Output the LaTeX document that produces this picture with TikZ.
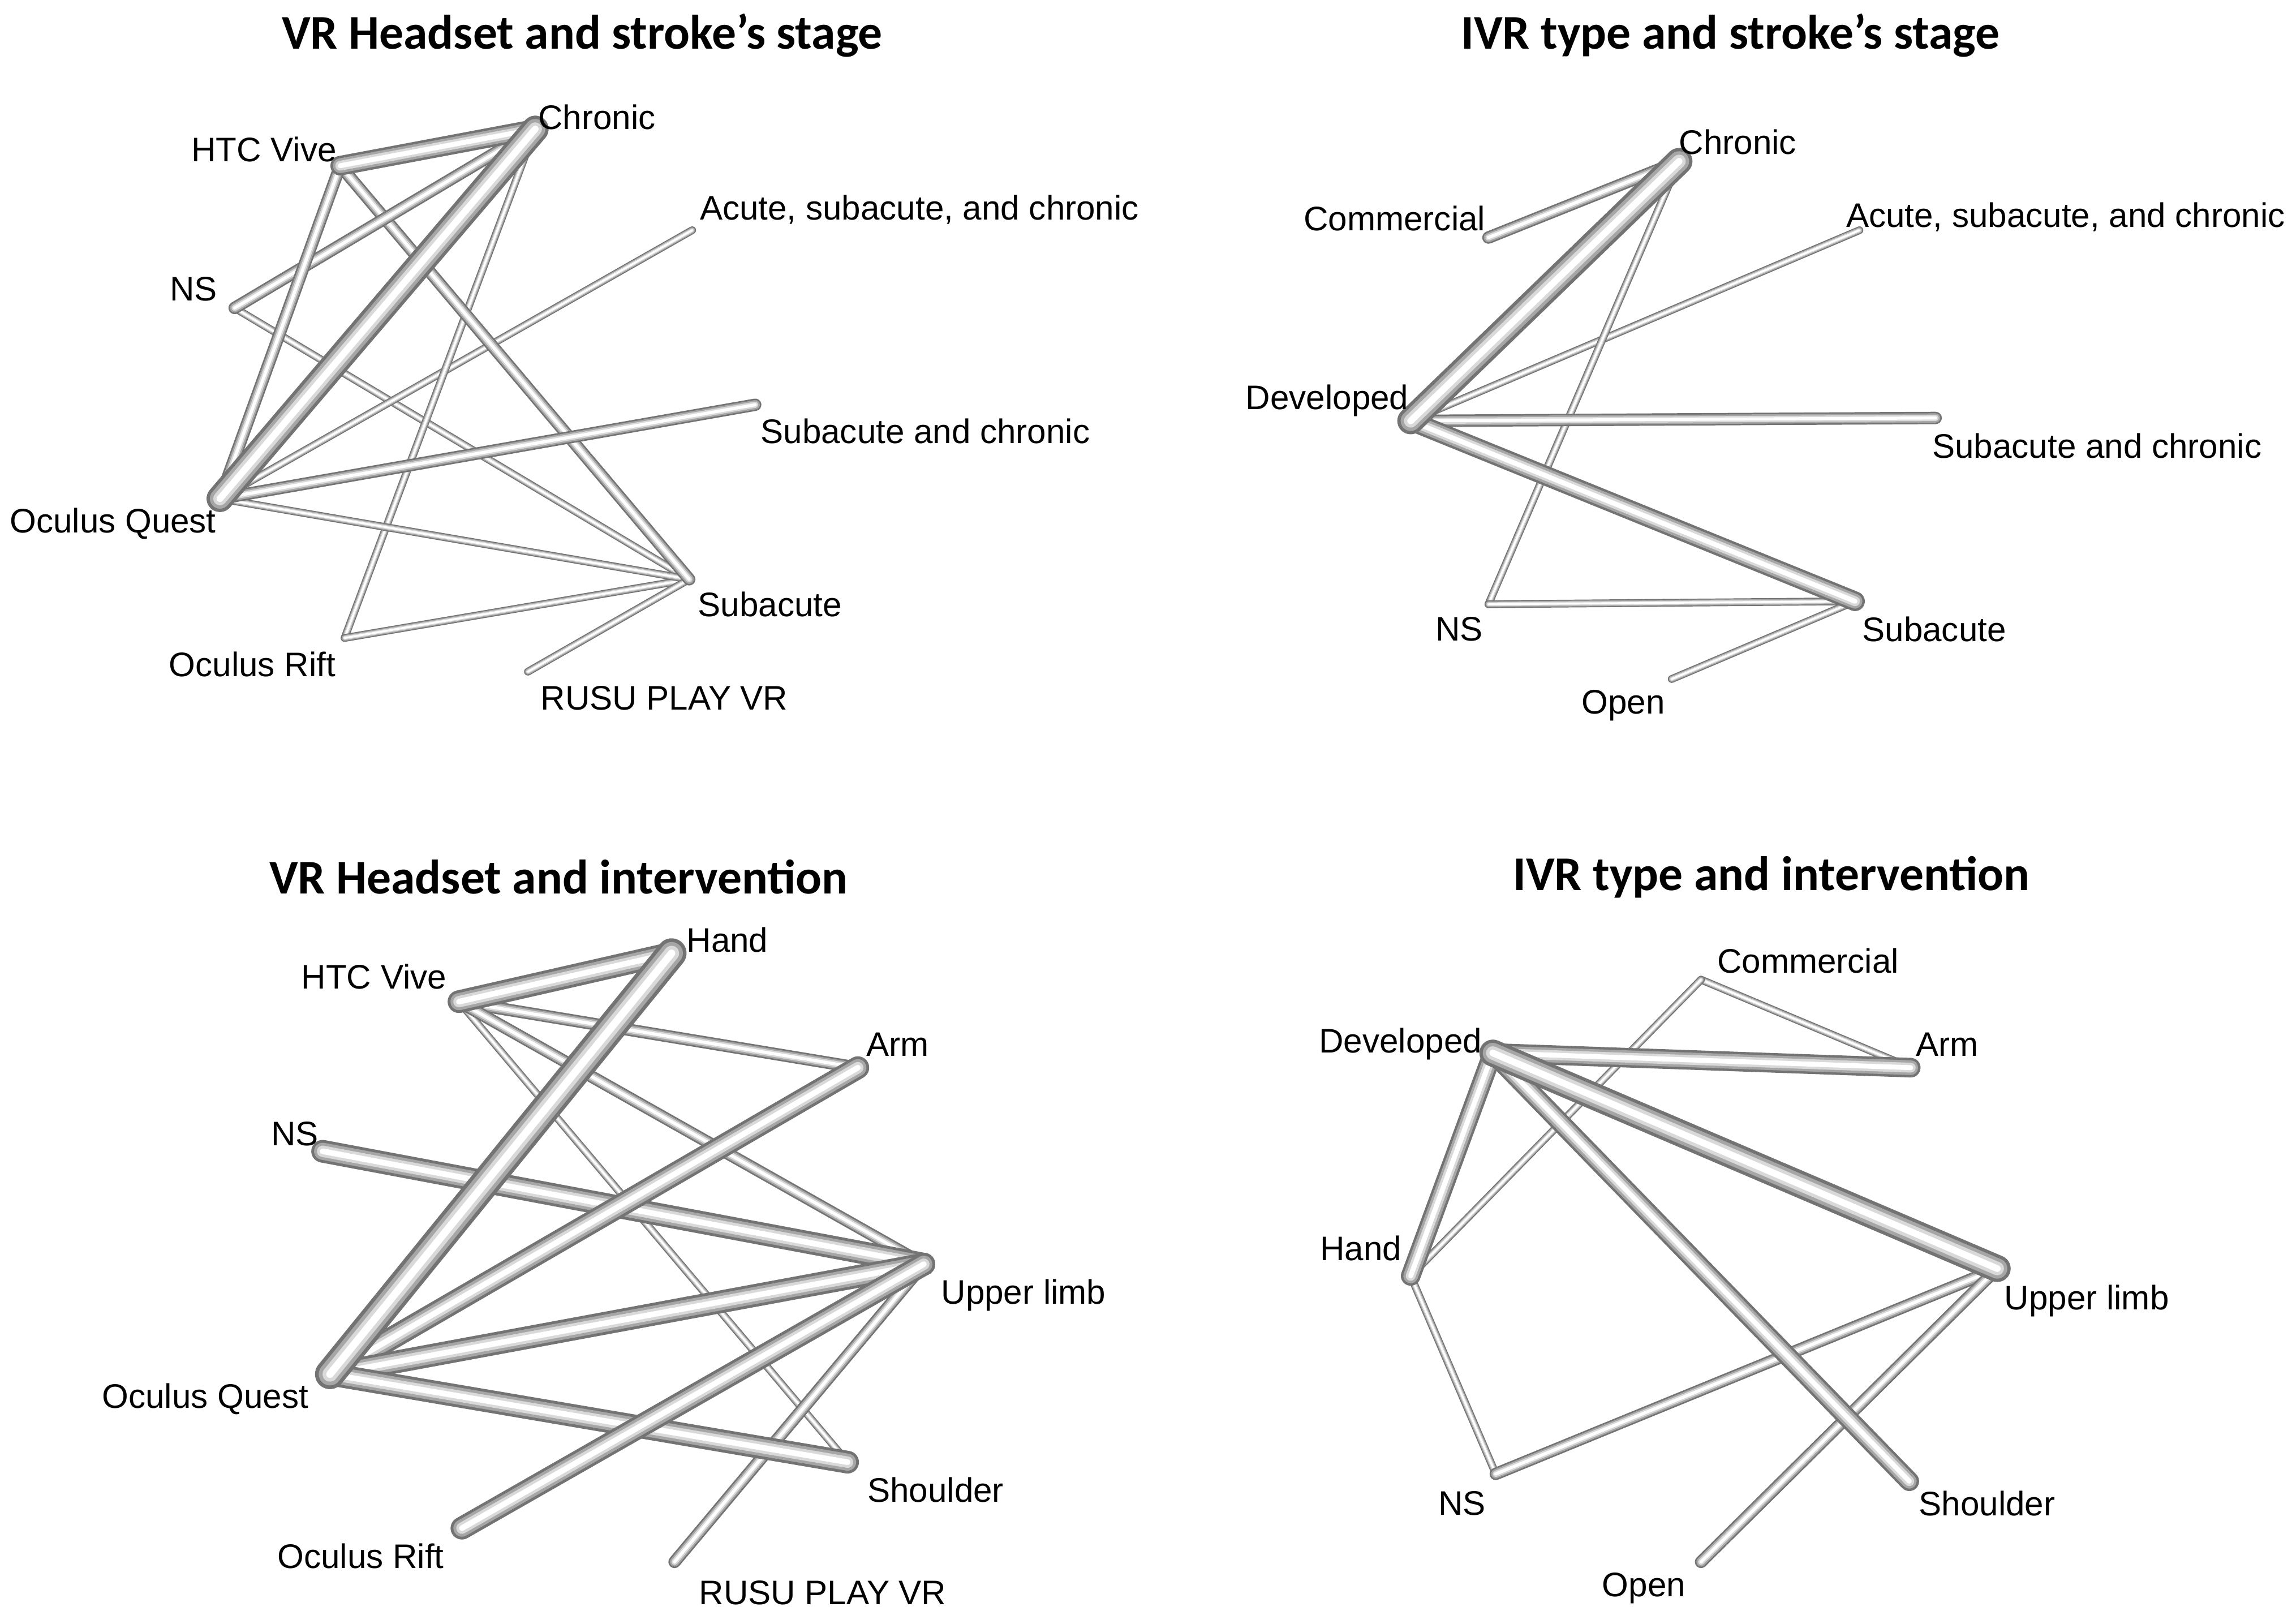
\documentclass[tikz,border=0pt]{standalone}
\usepackage{fontspec}
\setmainfont{Liberation Sans}
\newfontfamily\ttlfont{Carlito}
\begin{document}
\begin{tikzpicture}[x=0.01cm,y=-0.01cm,
 lbl/.style={font=\fontsize{6.6}{7.5}\selectfont,inner sep=0pt},
 ttl/.style={font=\ttlfont\bfseries\fontsize{9.4}{11}\selectfont,inner sep=0pt}]
\newcommand\tube[3]{\draw[line width=#1,black!55,line cap=round](#2)--(#3);
 \draw[line width=0.75*#1,black!35,line cap=round](#2)--(#3);
 \draw[line width=0.5*#1,black!15,line cap=round](#2)--(#3);
 \draw[line width=0.25*#1,white,line cap=round](#2)--(#3);}
\def\tn{1.5pt}\def\md{2.4pt}\def\tk{3.8pt}\def\vt{5.2pt}
\useasboundingbox (0,0) rectangle (1563,1107);
\fill[white] (0,0) rectangle (1563,1107);
% titles
\node[ttl] (t1) at (397,24) {VR Headset and stroke’s stage};
\node[ttl] (t2) at (1180,24) {IVR type and stroke’s stage};
\node[ttl] (t3) at (381,598) {VR Headset and intervention};
\node[ttl] (t4) at (1208,598) {IVR type and intervention};
% panel 1
\coordinate (aH) at (232,113); \coordinate (aC) at (365,88);
\coordinate (aA) at (472,157); \coordinate (aN) at (160,210);
\coordinate (aSC) at (515,276); \coordinate (aQ) at (150,340);
\coordinate (aS) at (470,395); \coordinate (aR) at (235,435);
\coordinate (aU) at (360,458);
\tube{\tn}{aN}{aS}
\tube{\tn}{aQ}{aA}
\tube{\tn}{aR}{aC}
\tube{\tn}{aR}{aS}
\tube{\tn}{aQ}{aS}
\tube{\tn}{aU}{aS}
\tube{\md}{aH}{aS}
\tube{\md}{aN}{aC}
\tube{\md}{aH}{aQ}
\tube{\md}{aQ}{aSC}
\tube{\tk}{aH}{aC}
\tube{\vt}{aQ}{aC}
\node[lbl] (la1) at (180,102) {HTC Vive};
\node[lbl] (la2) at (407,80) {Chronic};
\node[lbl] (la3) at (627,143) {Acute, subacute, and chronic};
\node[lbl] (la4) at (132,197) {NS};
\node[lbl] (la5) at (631,294) {Subacute and chronic};
\node[lbl] (la6) at (77,357) {Oculus Quest};
\node[lbl] (la7) at (525,412) {Subacute};
\node[lbl] (la8) at (172,453) {Oculus Rift};
\node[lbl] (la9) at (453,476) {RUSU PLAY VR};
% panel 2
\coordinate (bC) at (1145,110); \coordinate (bCo) at (1015,162);
\coordinate (bA) at (1268,157); \coordinate (bD) at (962,287);
\coordinate (bSC) at (1320,285); \coordinate (bN) at (1015,412);
\coordinate (bS) at (1265,410); \coordinate (bO) at (1140,463);
\tube{\tn}{bD}{bA}
\tube{\tn}{bN}{bC}
\tube{\tn}{bN}{bS}
\tube{\tn}{bO}{bS}
\tube{\md}{bCo}{bC}
\tube{\md}{bD}{bSC}
\tube{\tk}{bD}{bS}
\tube{\vt}{bD}{bC}
\node[lbl] (lb1) at (1185,97) {Chronic};
\node[lbl] (lb2) at (951,149) {Commercial};
\node[lbl,anchor=east] (lb3) at (1559,148) {Acute, subacute, and chronic};
\node[lbl] (lb4) at (905,273) {Developed};
\node[lbl] (lb5) at (1430,304) {Subacute and chronic};
\node[lbl] (lb6) at (995,429) {NS};
\node[lbl] (lb7) at (1319,429) {Subacute};
\node[lbl] (lb8) at (1107,481) {Open};
% panel 3
\coordinate (cH) at (458,650); \coordinate (cV) at (313,683);
\coordinate (cA) at (585,728); \coordinate (cN) at (220,785);
\coordinate (cU) at (630,862); \coordinate (cQ) at (225,937);
\coordinate (cS) at (578,997); \coordinate (cR) at (315,1042);
\coordinate (cP) at (460,1065);
\tube{\tn}{cV}{cS}
\tube{\md}{cV}{cA}
\tube{\md}{cV}{cU}
\tube{\md}{cP}{cU}
\tube{4.4pt}{cN}{cU}
\tube{4.4pt}{cQ}{cA}
\tube{4.4pt}{cQ}{cU}
\tube{4.4pt}{cQ}{cS}
\tube{4.4pt}{cR}{cU}
\tube{4.4pt}{cV}{cH}
\tube{5.8pt}{cQ}{cH}
\node[lbl] (lc1) at (496,641) {Hand};
\node[lbl] (lc2) at (255,666) {HTC Vive};
\node[lbl] (lc3) at (612,712) {Arm};
\node[lbl] (lc4) at (201,773) {NS};
\node[lbl] (lc5) at (698,883) {Upper limb};
\node[lbl] (lc6) at (140,954) {Oculus Quest};
\node[lbl] (lc7) at (638,1016) {Shoulder};
\node[lbl] (lc8) at (246,1061) {Oculus Rift};
\node[lbl] (lc9) at (561,1086) {RUSU PLAY VR};
% panel 4
\coordinate (dC) at (1160,668); \coordinate (dD) at (1018,718);
\coordinate (dA) at (1303,728); \coordinate (dH) at (962,870);
\coordinate (dU) at (1362,865); \coordinate (dN) at (1020,1005);
\coordinate (dS) at (1302,1010); \coordinate (dO) at (1160,1065);
\tube{\tn}{dC}{dA}
\tube{\tn}{dC}{dH}
\tube{\tn}{dH}{dN}
\tube{\md}{dN}{dU}
\tube{\md}{dO}{dU}
\tube{\tk}{dD}{dA}
\tube{\tk}{dD}{dH}
\tube{\tk}{dD}{dS}
\tube{\vt}{dD}{dU}
\node[lbl] (ld1) at (1233,655) {Commercial};
\node[lbl] (ld2) at (955,712) {Developed};
\node[lbl] (ld3) at (1328,712) {Arm};
\node[lbl] (ld4) at (928,851) {Hand};
\node[lbl] (ld5) at (1423,887) {Upper limb};
\node[lbl] (ld6) at (997,1025) {NS};
\node[lbl] (ld7) at (1355,1025) {Shoulder};
\node[lbl] (ld8) at (1121,1083) {Open};
\end{tikzpicture}
\end{document}
